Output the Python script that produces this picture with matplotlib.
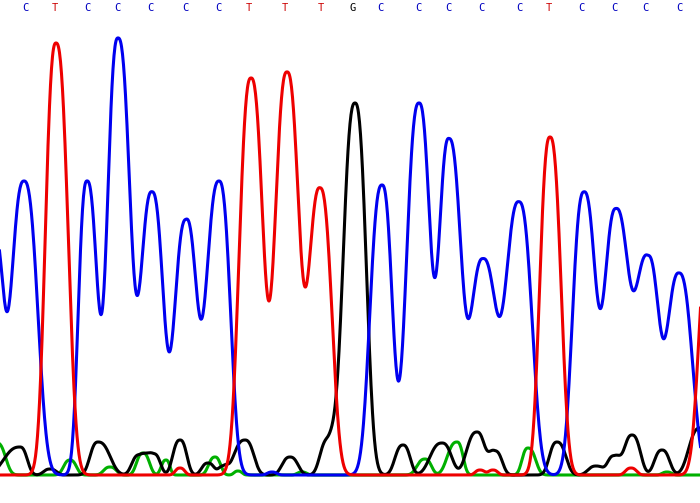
import numpy as np
import matplotlib
matplotlib.use("Agg")
import matplotlib.pyplot as plt

# ---- base calls (top labels) ----
base_calls = list("CTCCCCCTTTGCCCCCTCCCC")
base_x = [25, 55, 87, 117, 150, 185, 218, 249, 285, 321, 353,
          380, 418, 448, 481, 519, 549, 581, 614, 645, 679]

# ---- peak tables (scan position, height, left width, right width) ----
blue_pos = [-6, 24, 87, 118, 152, 186, 219, 272, 382, 419, 449, 483, 519, 584, 616, 648, 679]
blue_height = [237, 294, 294, 437, 283, 255, 294, 3, 290, 372, 336, 216, 273, 283, 266, 218, 202]
blue_wl = [11.6, 16.6, 10.8, 13.5, 14.5, 14.8, 16.6, 6, 15.0, 15.7, 12.9, 15.9, 17.1, 14.3, 15.0, 15.7, 15.6]
blue_wr = [11.6, 17.0, 13.1, 15.7, 14.5, 13.6, 14.2, 6, 12.9, 14.4, 15.7, 17.5, 16.3, 14.9, 16.8, 14.1, 16.6]

red_pos = [56, 180, 251, 287, 320, 480, 493, 550, 631, 711]
red_height = [432, 7, 397, 403, 287, 5, 5, 338, 7, 257]
red_wl = [13.2, 6, 14.6, 15.3, 14.6, 6, 6, 12.8, 7, 14.5]
red_wr = [15.0, 6, 15.3, 15.4, 14.8, 6, 6, 13.7, 7, 14.5]

black_pos = [20, 50, 98, 139, 154, 180, 208, 223, 245, 290, 328, 355, 403, 442,
             477, 495, 557, 596, 614, 632, 662, 700]
black_height = [28, 6, 33, 20, 21, 35, 12, 8, 35, 18, 35, 372, 30, 32,
                43, 24, 33, 9, 19, 40, 25, 47]
black_wl = [20, 8, 10, 9, 9, 9, 8, 6, 14, 10, 10, 15, 10, 15,
            13, 8, 9.5, 10, 8, 10, 9.5, 14]
black_wr = [9, 8, 15, 9, 8, 8.5, 8, 6, 11, 10, 10, 14, 9, 12,
            10, 9, 11, 10, 8, 10.5, 9.5, 10]

green_pos = [-3, 70, 110, 143, 166, 215, 238, 302, 425, 457, 528, 667]
green_height = [32, 15, 8, 22, 15, 18, 4, 3, 16, 33, 27, 3]
green_wl = [10.5, 8, 8, 8, 6, 8, 5, 6, 10, 12, 7.5, 6]
green_wr = [10.5, 8, 8, 8, 5, 7, 5, 6, 8, 7.5, 9.5, 6]

SHAPE = 2.6  # peak shape exponent


def trace(x, pos, height, wl, wr):
    y = np.zeros_like(x)
    for c, h, a, b in zip(pos, height, wl, wr):
        w = np.where(x < c, a, b)
        y += h * np.exp(-(np.abs(x - c) / w) ** SHAPE)
    return y


x = np.arange(-20, 721, 0.5)

fig = plt.figure(figsize=(7.0, 5.03), dpi=100)
ax = fig.add_axes([0, 0, 1, 1])
ax.set_xlim(0, 700)
ax.set_ylim(-28, 475)
ax.axis("off")

lw = 2.2
ax.plot(x, trace(x, green_pos, green_height, green_wl, green_wr), color="#00b000", lw=lw)
ax.plot(x, trace(x, black_pos, black_height, black_wl, black_wr), color="#000000", lw=lw)
ax.plot(x, trace(x, blue_pos, blue_height, blue_wl, blue_wr), color="#0000f0", lw=lw)
ax.plot(x, trace(x, red_pos, red_height, red_wl, red_wr), color="#ee0000", lw=lw)

label_colors = {"C": "#0000c0", "T": "#cc0000", "G": "#000000", "A": "#00a000"}
for b, bx in zip(base_calls, base_x):
    ax.text(bx, 467, b, color=label_colors[b], fontsize=7.5,
            family="DejaVu Sans Mono", ha="center", va="center")

fig.savefig("out.png", dpi=100)
